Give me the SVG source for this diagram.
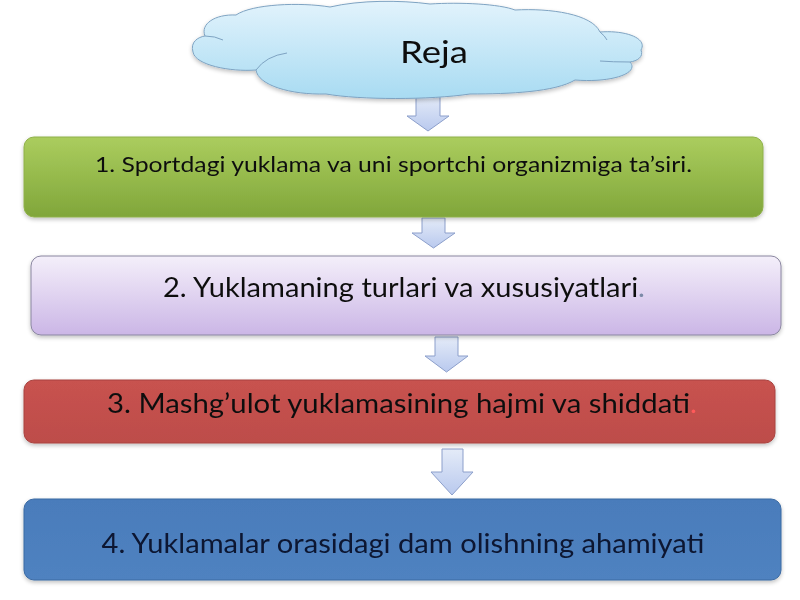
<svg xmlns="http://www.w3.org/2000/svg" width="800" height="600" viewBox="0 0 800 600">
<defs>
  <linearGradient id="gCloud" x1="0" y1="0" x2="0" y2="1">
    <stop offset="0" stop-color="#e2f3fc"/>
    <stop offset="1" stop-color="#a8dbf2"/>
  </linearGradient>
  <linearGradient id="gArrow" x1="0" y1="0" x2="0" y2="1">
    <stop offset="0" stop-color="#e4ebf8"/>
    <stop offset="1" stop-color="#b9c9ee"/>
  </linearGradient>
  <linearGradient id="gGreen" x1="0" y1="0" x2="0" y2="1">
    <stop offset="0" stop-color="#abcd5e"/>
    <stop offset="1" stop-color="#80a63a"/>
  </linearGradient>
  <linearGradient id="gLav" x1="0" y1="0" x2="0" y2="1">
    <stop offset="0" stop-color="#f4effa"/>
    <stop offset="1" stop-color="#cbb6e6"/>
  </linearGradient>
  <linearGradient id="gRed" x1="0" y1="0" x2="0" y2="1">
    <stop offset="0" stop-color="#c8524f"/>
    <stop offset="1" stop-color="#bd4d4a"/>
  </linearGradient>
  <linearGradient id="gBlue" x1="0" y1="0" x2="0" y2="1">
    <stop offset="0" stop-color="#4a7cbb"/>
    <stop offset="1" stop-color="#4f82c0"/>
  </linearGradient>
  <filter id="sh" x="-5%" y="-10%" width="110%" height="130%">
    <feGaussianBlur in="SourceAlpha" stdDeviation="2"/>
    <feOffset dx="0" dy="2" result="b"/>
    <feComponentTransfer><feFuncA type="linear" slope="0.25"/></feComponentTransfer>
    <feMerge><feMergeNode/><feMergeNode in="SourceGraphic"/></feMerge>
  </filter>
</defs>
<style>
  .t { font-family: Lato, "Open Sans", "Liberation Sans", sans-serif; text-anchor: middle; fill: #111; }
  .arrow { fill: url(#gArrow); stroke: #8c9fcb; stroke-width: 1; stroke-linejoin: round; }
  .box { filter: url(#sh); }
</style>

<g id="connectors">
  <path class="arrow" d="M416,96 L440,96 L440,116 L449,116 L428,131 L407,116 L416,116 Z"/>
  <path class="arrow" d="M422,218 L445,218 L445,233 L455,233 L433.5,248 L412,233 L422,233 Z"/>
  <path class="arrow" d="M435,337 L458,337 L458,356 L468,356 L446.5,372 L425,356 L435,356 Z"/>
  <path class="arrow" d="M442,449 L463,449 L463,472 L473,472 L452,495 L431,472 L442,472 Z"/>
</g>

<g id="cloud" filter="url(#sh)">
  <path d="M205,36 C200,24 215,14 236,15 C252,4 300,2 330,7 C360,0 400,0 430,4 C460,2 500,4 515,10 C550,8 592,14 600,32 C625,30 648,38 641,50 C644,57 637,61 630,62 C640,73 612,83 575,80 C555,92 510,94 470,94 C430,100 360,100 326,94 C290,95 258,85 256,70 C230,72 195,65 193,52 C190,42 198,37 205,36 Z" fill="url(#gCloud)" stroke="#7ea3c2" stroke-width="1"/>
  <path d="M205,36 Q215,36 223,40 M256,70 Q266,56 287,53 M630,62 Q612,62 600,61 M600,32 Q605,36 607,40" fill="none" stroke="#7ea3c2" stroke-width="1"/>
  <text class="t" x="434" y="63" font-size="31" textLength="68" lengthAdjust="spacingAndGlyphs">Reja</text>
</g>

<g id="box1" class="box">
  <rect x="24" y="137" width="739" height="80" rx="10" fill="url(#gGreen)" stroke="#8fb04a" stroke-width="1"/>
  <text class="t" x="393.5" y="172" font-size="22" textLength="597" lengthAdjust="spacingAndGlyphs">1. Sportdagi yuklama va uni sportchi organizmiga ta’siri.</text>
</g>

<g id="box2" class="box">
  <rect x="31" y="256" width="750" height="79" rx="10" fill="url(#gLav)" stroke="#8a86a0" stroke-width="1"/>
  <text class="t" x="404" y="297" font-size="26" textLength="482" lengthAdjust="spacingAndGlyphs">2. Yuklamaning turlari va xususiyatlari<tspan fill="#7b8aa8">.</tspan></text>
</g>

<g id="box3" class="box">
  <rect x="24" y="380" width="751" height="63" rx="10" fill="url(#gRed)" stroke="#a8423f" stroke-width="1"/>
  <text class="t" x="402" y="413" font-size="27" fill="#1a0808" textLength="590" lengthAdjust="spacingAndGlyphs">3. Mashg’ulot yuklamasining hajmi va shiddati<tspan fill="#ff5a5a">.</tspan></text>
</g>

<g id="box4" class="box">
  <rect x="24" y="499" width="757" height="81" rx="10" fill="url(#gBlue)" stroke="#3b6aa3" stroke-width="1"/>
  <text class="t" x="403" y="553" font-size="26" style="fill:#0c1630" textLength="603" lengthAdjust="spacingAndGlyphs">4. Yuklamalar orasidagi dam olishning ahamiyati</text>
</g>
</svg>
